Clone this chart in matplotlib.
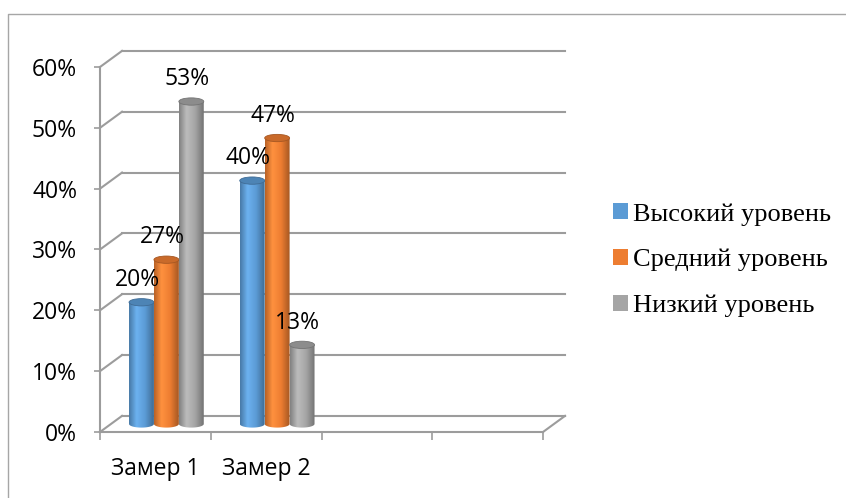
import numpy as np
import matplotlib
matplotlib.use('Agg')
import matplotlib.pyplot as plt
from matplotlib.colors import LinearSegmentedColormap, to_rgb
from matplotlib.patches import Ellipse, PathPatch, Rectangle
from matplotlib.path import Path
from matplotlib.lines import Line2D
from matplotlib.ticker import PercentFormatter


categories = ['Замер 1', 'Замер 2']
series_names = ['Высокий уровень', 'Средний уровень', 'Низкий уровень']
high_level = [0.20, 0.40]
mid_level = [0.27, 0.47]
low_level = [0.53, 0.13]
y_ticks = [0.0, 0.1, 0.2, 0.3, 0.4, 0.5, 0.6]

colors = ['#5b9bd5', '#ed7d31', '#a5a5a5']
n_slots = 4                         # the category axis has 4 slots, 2 used
DEPTH_X, DEPTH_Y = 0.199, 0.0265    # offset of the back wall, in data units
bar_w = 0.225
cap_h = 0.012
grid_c = '#9c9c9c'
font_sz = 16.5

plt.rcParams['font.family'] = ['Open Sans', 'DejaVu Sans']


def cylinder(ax, cx, h, color, z):
    # bar sits half way between front and back plane
    cx = cx + DEPTH_X / 2
    base = DEPTH_Y / 2
    top = h + DEPTH_Y / 2
    x0, x1 = cx - bar_w / 2, cx + bar_w / 2

    t = np.linspace(np.pi, 2 * np.pi, 40)
    bottom = np.column_stack([cx + bar_w / 2 * np.cos(t), base + cap_h / 2 * np.sin(t)])
    verts = np.vstack([[x0, top], bottom, [x1, top], [x0, top]])
    clip = PathPatch(Path(verts), transform=ax.transData, facecolor='none', edgecolor='none')
    ax.add_patch(clip)

    rgb = np.array(to_rgb(color))
    cmap = LinearSegmentedColormap.from_list('cyl', [
        (0.0, rgb * 0.78),
        (0.3, np.minimum(rgb * 1.08 + 0.04, 1)),
        (0.65, rgb),
        (1.0, rgb * 0.7),
    ])
    img = ax.imshow(np.linspace(0, 1, 64)[None, :], cmap=cmap, aspect='auto',
                    extent=[x0, x1, base - cap_h, top], zorder=z,
                    interpolation='bicubic')
    img.set_clip_path(clip)
    ax.add_patch(Ellipse((cx, top), bar_w, cap_h, facecolor=rgb * 0.85,
                         edgecolor=rgb * 0.7, lw=0.6, zorder=z + 0.1))


fig = plt.figure(figsize=(8.46, 4.98), dpi=100)
ax = fig.add_axes([100 / 846, 66 / 498, 443 / 846, 365 / 498])
ax.patch.set_visible(False)

# outer frame of the chart area
fig.add_artist(Line2D([8 / 846, 8 / 846, 1.01], [-0.01, 1 - 14 / 498, 1 - 14 / 498],
                      transform=fig.transFigure, color='#a6a6a6', lw=1))

# back wall and left wall
for v in y_ticks:
    ax.plot([DEPTH_X, n_slots + DEPTH_X], [v + DEPTH_Y] * 2, color=grid_c,
            lw=1.5, clip_on=False, zorder=1)
    ax.plot([0, DEPTH_X], [v, v + DEPTH_Y], color=grid_c, lw=1.5,
            clip_on=False, zorder=1)
ax.plot([n_slots, n_slots + DEPTH_X], [0, DEPTH_Y], color=grid_c, lw=1.5,
        clip_on=False, zorder=1)

series = [high_level, mid_level, low_level]
for k, vals in enumerate(series):
    for i, v in enumerate(vals):
        cx = i + 0.5 + (k - 1) * bar_w
        cylinder(ax, cx, v, colors[k], 3 + k)
        ax.annotate(f'{v:.0%}', xy=(cx + DEPTH_X / 2, v + DEPTH_Y / 2),
                    xytext=(-3, 16), textcoords='offset points',
                    ha='center', va='center', fontsize=font_sz, zorder=10)

ax.set_xlim(0, n_slots)
ax.set_ylim(0, 0.6)

for s in ['top', 'right']:
    ax.spines[s].set_visible(False)
for s in ['left', 'bottom']:
    ax.spines[s].set_color(grid_c)
    ax.spines[s].set_linewidth(1.5)

ax.set_yticks(y_ticks)
ax.yaxis.set_major_formatter(PercentFormatter(1.0, decimals=0))
ax.tick_params(axis='y', length=4.5, width=1.2, color=grid_c, pad=12, labelsize=font_sz)

ax.set_xticks(range(n_slots + 1))
ax.set_xticklabels([])
ax.set_xticks([0.5, 1.5], labels=categories, minor=True)
ax.tick_params(axis='x', which='major', length=6, width=1.2, color=grid_c)
ax.tick_params(axis='x', which='minor', length=0, pad=18, labelsize=font_sz)

handles = [Rectangle((0, 0), 1, 1, facecolor=c) for c in colors]
fig.legend(handles, series_names, loc='center left',
           bbox_to_anchor=(613 / 846, 1 - 260 / 498), frameon=False,
           prop={'family': 'Liberation Serif', 'size': 19},
           handlelength=0.55, handleheight=0.55, handletextpad=0.2,
           labelspacing=0.88, borderpad=0, borderaxespad=0)

fig.savefig('out.png', dpi=100)
